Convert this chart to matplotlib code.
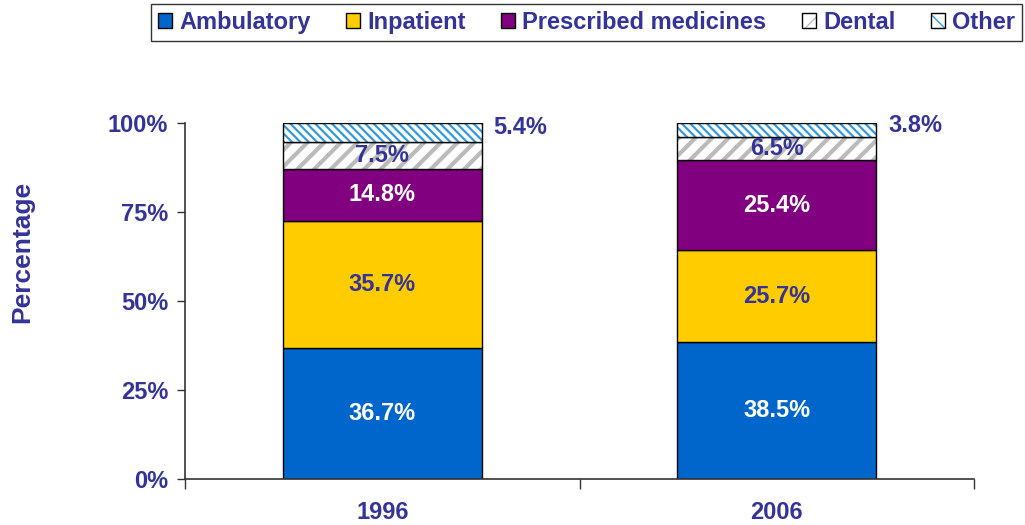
import matplotlib.pyplot as plt
from matplotlib.legend_handler import HandlerBase
from matplotlib.patches import Rectangle
import numpy as np

plt.rcParams["font.family"] = ["Liberation Sans", "DejaVu Sans"]
plt.rcParams["font.weight"] = "bold"

years = ["1996", "2006"]
categories = ["Ambulatory", "Inpatient", "Prescribed medicines", "Dental", "Other"]
values = {
    "Ambulatory": [36.7, 38.5],
    "Inpatient": [35.7, 25.7],
    "Prescribed medicines": [14.8, 25.4],
    "Dental": [7.5, 6.5],
    "Other": [5.4, 3.8],
}

NAVY = "#333399"
FS = 17
fills = {
    "Ambulatory": "#0066CC",
    "Inpatient": "#FFCC00",
    "Prescribed medicines": "#800080",
    "Dental": "white",
    "Other": "white",
}
hatches = {"Dental": ("//", "#BBBBBB", 3.0), "Other": ("\\\\\\\\", "#3399DD", 1.6)}
label_colors = {
    "Ambulatory": "white",
    "Inpatient": NAVY,
    "Prescribed medicines": "white",
    "Dental": NAVY,
    "Other": NAVY,
}


class HatchBox(HandlerBase):
    # hatched square with a black outline, hatch drawn in its own colour
    def create_artists(self, legend, orig_handle, xdescent, ydescent,
                       width, height, fontsize, trans):
        h, hc = orig_handle.get_label().split("|")
        inner = Rectangle((-xdescent, -ydescent), width, height,
                          facecolor="white", edgecolor=hc, hatch=h,
                          linewidth=0, transform=trans)
        outer = Rectangle((-xdescent, -ydescent), width, height, fill=False,
                          edgecolor="black", linewidth=1, transform=trans)
        return [inner, outer]


fig = plt.figure(figsize=(10.25, 5.25), dpi=100)
ax = fig.add_axes([0.1805, 0.0876, 0.7698, 0.6781])

x = np.arange(len(years))
width = 0.505
bottom = np.zeros(len(years))
handles = []
handler_map = {}
for cat in categories:
    vals = np.array(values[cat])
    if cat in hatches:
        h, hc, hlw = hatches[cat]
        plt.rcParams["hatch.linewidth"] = hlw
        ax.bar(x, vals, width, bottom=bottom, color="white",
               edgecolor=hc, hatch=h, linewidth=0)
        ax.bar(x, vals, width, bottom=bottom, fill=False,
               edgecolor="black", linewidth=1)
        plt.rcParams["hatch.linewidth"] = 1.0
        proxy = Rectangle((0, 0), 1, 1, label=f"{h[:2]}|{hc}")
        handler_map[proxy] = HatchBox()
        handles.append(proxy)
    else:
        ax.bar(x, vals, width, bottom=bottom, color=fills[cat],
               edgecolor="black", linewidth=1)
        handles.append(Rectangle((0, 0), 1, 1, facecolor=fills[cat],
                                 edgecolor="black", linewidth=1))
    for i, v in enumerate(vals):
        if cat == "Other":
            ax.text(x[i] + width / 2 + 0.03, bottom[i] + v / 2 + 1.2, f"{v:.1f}%",
                    ha="left", va="center", fontsize=FS, color=NAVY,
                    fontweight="bold")
        else:
            ax.text(x[i], bottom[i] + v / 2, f"{v:.1f}%", ha="center",
                    va="center", fontsize=FS, color=label_colors[cat],
                    fontweight="bold")
    bottom += vals

ax.set_xlim(-0.5, 1.5)
ax.set_ylim(0, 100)
ax.set_yticks([0, 25, 50, 75, 100])
ax.set_yticklabels(["0%", "25%", "50%", "75%", "100%"])
ax.tick_params(axis="y", labelsize=FS, length=6, width=1, pad=6,
               colors="#333333")
for lbl in ax.get_yticklabels():
    lbl.set_color(NAVY)

ax.set_xticks([-0.5, 0.5, 1.5])
ax.set_xticklabels([])
ax.set_xticks(x, minor=True)
ax.set_xticklabels(years, minor=True)
ax.tick_params(axis="x", which="major", length=7, width=1, color="#333333")
ax.tick_params(axis="x", which="minor", length=0, pad=16, labelsize=FS,
               labelcolor=NAVY)

for s in ["top", "right"]:
    ax.spines[s].set_visible(False)
for s in ["left", "bottom"]:
    ax.spines[s].set_color("#333333")
    ax.spines[s].set_linewidth(1.2)

fig.text(22 / 1025, 1 - 252 / 525, "Percentage", rotation=90, ha="center",
         va="center", fontsize=19, color=NAVY, fontweight="bold")

leg = fig.legend(handles, categories, ncol=5, loc="upper right",
                 bbox_to_anchor=(1022 / 1025, 1 - 4 / 525), frameon=True,
                 fancybox=False, edgecolor="black", fontsize=FS,
                 handlelength=0.6, handleheight=0.6, handletextpad=0.3,
                 columnspacing=1.5, borderpad=0.3, borderaxespad=0,
                 handler_map=handler_map)
leg.get_frame().set_linewidth(1)
for t in leg.get_texts():
    t.set_color(NAVY)

fig.savefig("out.png", dpi=100)
